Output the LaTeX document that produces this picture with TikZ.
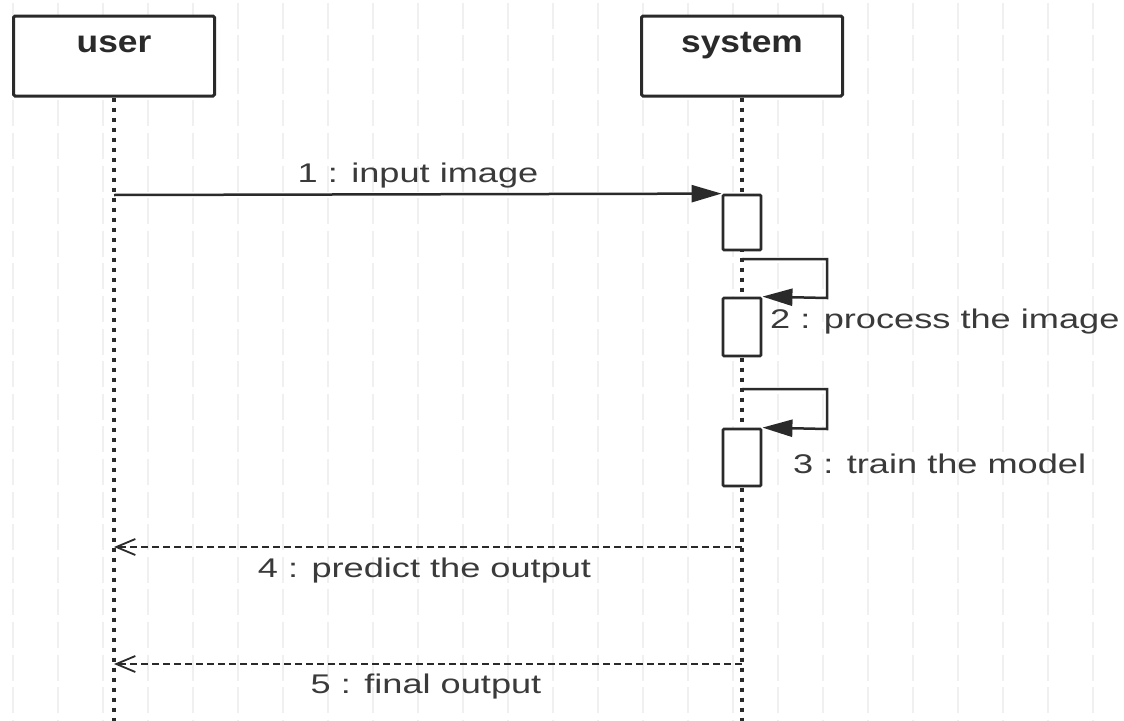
\documentclass[tikz,border=0pt]{standalone}
\usepackage{fontspec}
\setmainfont{Liberation Sans}
\newfontfamily\msgfont[FakeStretch=1.34]{Liberation Sans}
\newfontfamily\headfont[FakeStretch=1.14]{Liberation Sans}
\usetikzlibrary{arrows.meta}

\definecolor{ink}{HTML}{2A2A2A}
\definecolor{txt}{HTML}{3A3A3A}
\definecolor{gridc}{HTML}{F0F0F0}

\begin{document}
\begin{tikzpicture}[x=1pt, y=-1pt,
  actor/.style={draw=ink, line width=3pt, rounded corners=1.5pt, fill=white,
    minimum width=201pt, minimum height=80pt, inner sep=0pt},
  actorlabel/.style={font=\headfont\fontsize{31}{31}\selectfont\bfseries,
    text=ink, inner sep=0pt, anchor=base},
  lifeline/.style={draw=ink, line width=3.3pt, dash pattern=on 4.5pt off 5.5pt},
  activation/.style={draw=ink, line width=2.8pt, fill=white, rounded corners=1pt,
    minimum width=38pt, inner sep=0pt},
  call/.style={draw=ink, line width=2.5pt, -{Triangle[length=30pt, width=17pt]}},
  reply/.style={draw=ink, line width=2.5pt, dash pattern=on 7pt off 4pt,
    -{Straight Barb[length=19pt, width=16pt, line width=1.8pt]}},
  msg/.style={font=\msgfont\fontsize{27}{27}\selectfont, text=txt, inner sep=0pt},
  gridline/.style={draw=gridc, line width=1.2pt, dash pattern=on 26pt off 6.6pt}
]
\useasboundingbox (0,0) rectangle (1124,720);
\fill[white] (0,0) rectangle (1124,720);

% background grid
\foreach \k in {0,...,24}
  \draw[gridline] (13+45*\k, 2.5) -- (13+45*\k, 720);

% participants
\node[actor] (user) at (114,56) {};
\node[actor] (system) at (742,56) {};
\node[actorlabel] (userlabel) at (114,52) {user};
\node[actorlabel] (systemlabel) at (742,52) {system};

% lifelines
\coordinate (userend) at (114,722);
\coordinate (systemend) at (742,722);
\draw[lifeline] (user.south) -- (userend);
\draw[lifeline] (system.south) -- (systemend);

% activations
\node[activation, minimum height=55pt] (a1) at (742,222.5) {};
\node[activation, minimum height=58pt] (a2) at (742,327) {};
\node[activation, minimum height=57pt] (a3) at (742,457.5) {};

% 1 : input image
\coordinate (m1) at (114,195);
\draw[call] (m1) -- (a1.north west);
\node[msg, anchor=base] (l1) at (418,182) {1 : input image};

% 2 : process the image (self call)
\coordinate (m2a) at (742,259);
\coordinate (m2b) at (827,259);
\coordinate (m2c) at (827,298);
\draw[call] (m2a) -- (m2b) -- (m2c) -- (a2.north east);
\node[msg, anchor=base west] (l2) at (770,328) {2 : process the image};

% 3 : train the model (self call)
\coordinate (m3a) at (742,389);
\coordinate (m3b) at (827,389);
\coordinate (m3c) at (827,429);
\draw[call] (m3a) -- (m3b) -- (m3c) -- (a3.north east);
\node[msg, anchor=base west] (l3) at (793,473) {3 : train the model};

% 4 : predict the output (reply)
\coordinate (m4s) at (742,547);
\coordinate (m4e) at (114,547);
\draw[reply] (m4s) -- (m4e);
\node[msg, anchor=base] (l4) at (424.5,577) {4 : predict the output};

% 5 : final output (reply)
\coordinate (m5s) at (742,664);
\coordinate (m5e) at (114,664);
\draw[reply] (m5s) -- (m5e);
\node[msg, anchor=base] (l5) at (426,693) {5 : final output};
\end{tikzpicture}
\end{document}
